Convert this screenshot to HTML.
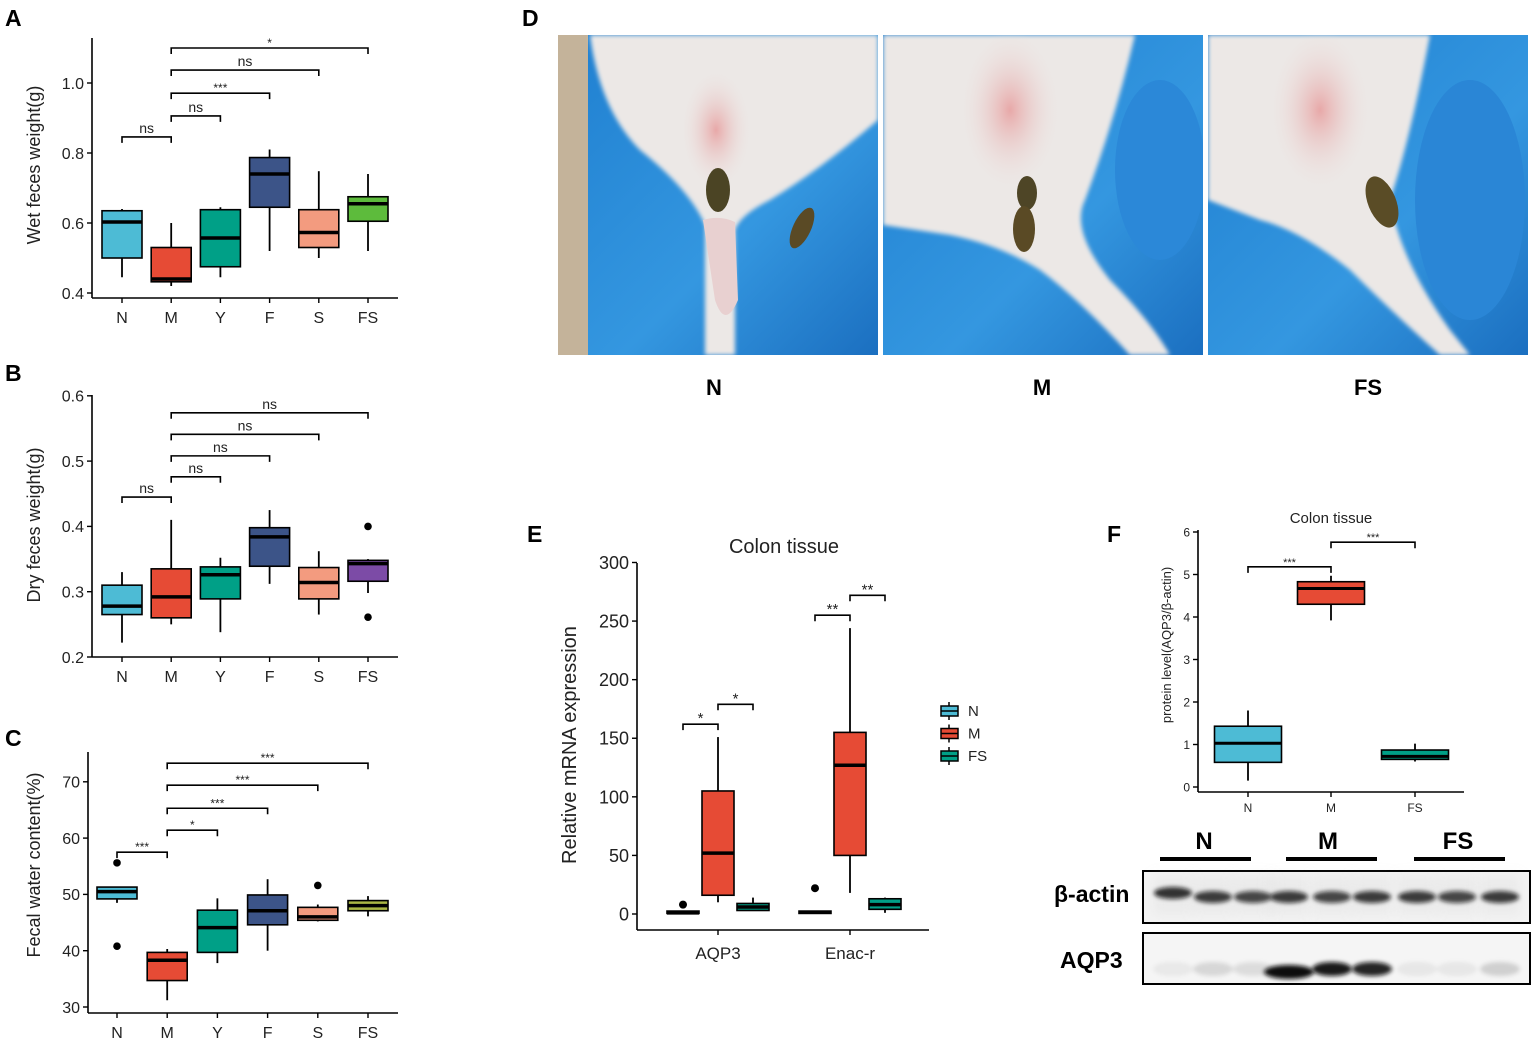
<!DOCTYPE html>
<html><head><meta charset="utf-8"><style>
html,body{margin:0;padding:0;background:#fff;}
svg{display:block;font-family:"Liberation Sans",Arial,sans-serif;}
</style></head><body>
<svg id="fig" width="1535" height="1042" viewBox="0 0 1535 1042" xmlns="http://www.w3.org/2000/svg">
<defs>
<filter id="blur2" x="-50%" y="-50%" width="200%" height="200%"><feGaussianBlur stdDeviation="2"/></filter>
<filter id="blur6" x="-50%" y="-50%" width="200%" height="200%"><feGaussianBlur stdDeviation="6"/></filter>
<linearGradient id="glove" x1="0" y1="0" x2="1" y2="1"><stop offset="0" stop-color="#1f7fd0"/><stop offset="0.6" stop-color="#3497e0"/><stop offset="1" stop-color="#1b6fc0"/></linearGradient>
<radialGradient id="pink" cx="0.5" cy="0.5" r="0.5"><stop offset="0" stop-color="#e8a8a8"/><stop offset="1" stop-color="#ece4e2" stop-opacity="0"/></radialGradient>
<clipPath id="c1"><rect x="558" y="35" width="320" height="320"/></clipPath>
<clipPath id="c2"><rect x="883" y="35" width="320" height="320"/></clipPath>
<clipPath id="c3"><rect x="1208" y="35" width="320" height="320"/></clipPath>
</defs>

<g font-weight="bold" font-size="23" fill="#000">
<text x="5" y="26">A</text>
<text x="5" y="381">B</text>
<text x="5" y="746">C</text>
<text x="522" y="26">D</text>
<text x="527" y="542">E</text>
<text x="1107" y="542">F</text>
</g>

<g clip-path="url(#c1)">
<rect x="558" y="35" width="320" height="320" fill="url(#glove)"/>
<rect x="558" y="35" width="30" height="320" fill="#c4b39a"/>
<path d="M590 35 L878 35 L878 120 Q820 170 770 200 Q740 215 735 230 L735 355 L705 355 L705 225 Q690 190 640 150 Q600 110 590 35 Z" fill="#ece8e6" filter="url(#blur2)"/>
<ellipse cx="716" cy="130" rx="35" ry="60" fill="url(#pink)"/>
<path d="M703 220 Q720 215 735 222 L738 300 Q725 330 715 300 Z" fill="#e8d0d0"/>
<ellipse cx="718" cy="190" rx="12" ry="22" fill="#4b4424"/>
<ellipse cx="802" cy="228" rx="9" ry="22" transform="rotate(25 802 228)" fill="#5a4a25"/>
</g>
<g clip-path="url(#c2)">
<rect x="883" y="35" width="320" height="320" fill="url(#glove)"/>
<ellipse cx="1160" cy="170" rx="45" ry="90" fill="#2b88d8"/>
<path d="M883 35 L1135 35 Q1115 120 1085 200 Q1070 230 1110 280 Q1150 320 1170 355 L1130 355 Q1080 300 1040 270 Q1000 245 950 235 L883 225 Z" fill="#ece8e6" filter="url(#blur2)"/>
<ellipse cx="1010" cy="110" rx="50" ry="80" fill="url(#pink)"/>
<ellipse cx="1027" cy="193" rx="10" ry="17" fill="#4e4526"/>
<ellipse cx="1024" cy="229" rx="11" ry="23" fill="#5a4a25"/>
</g>
<g clip-path="url(#c3)">
<rect x="1208" y="35" width="320" height="320" fill="url(#glove)"/>
<ellipse cx="1470" cy="200" rx="55" ry="120" fill="#2a86d6"/>
<path d="M1208 35 L1430 35 Q1410 140 1390 200 Q1400 260 1450 330 L1470 355 L1440 355 Q1390 310 1350 270 Q1300 230 1260 220 L1208 200 Z" fill="#ece8e6" filter="url(#blur2)"/>
<ellipse cx="1320" cy="110" rx="50" ry="80" fill="url(#pink)"/>
<ellipse cx="1382" cy="202" rx="14" ry="27" transform="rotate(-22 1382 202)" fill="#5a4c26"/>
</g>
<g font-weight="bold" font-size="22" text-anchor="middle">
<text x="714" y="395">N</text>
<text x="1042" y="395">M</text>
<text x="1368" y="395">FS</text>
</g>

<g id="charts"></g>

<g>
<g font-weight="bold" font-size="24" text-anchor="middle">
<text x="1204" y="849">N</text>
<text x="1328" y="849">M</text>
<text x="1458" y="849">FS</text>
</g>
<rect x="1160" y="857" width="91" height="4" fill="#000"/>
<rect x="1286" y="857" width="91" height="4" fill="#000"/>
<rect x="1414" y="857" width="91" height="4" fill="#000"/>
<text x="1054" y="902" font-weight="bold" font-size="23">β-actin</text>
<text x="1060" y="968" font-weight="bold" font-size="23">AQP3</text>
<rect x="1143" y="871" width="387" height="52" fill="#f3f3f3" stroke="#000" stroke-width="2"/>
<rect x="1143" y="933" width="387" height="51" fill="#f5f5f5" stroke="#000" stroke-width="2"/>
<g id="bands"></g>
</g>
</svg>
<script>
const cats6 = ['N','M','Y','F','S','FS'];
const aLow  = [0.445,0.42,0.445,0.52,0.50,0.52];
const aQ1   = [0.50,0.432,0.475,0.645,0.53,0.605];
const aMed  = [0.603,0.44,0.557,0.74,0.573,0.655];
const aQ3   = [0.635,0.53,0.638,0.787,0.638,0.675];
const aHigh = [0.64,0.60,0.645,0.81,0.748,0.74];
const aOut  = [[],[],[],[],[],[]];
const aTicks = [0.4,0.6,0.8,1.0];
const aSigPairs = [['N','M'],['M','Y'],['M','F'],['M','S'],['M','FS']];
const aSigText = ['ns','ns','***','ns','*'];
const aSigY = [0.846,0.906,0.971,1.037,1.10];
const bLow  = [0.222,0.25,0.238,0.312,0.265,0.298];
const bQ1   = [0.265,0.26,0.289,0.339,0.289,0.316];
const bMed  = [0.278,0.292,0.326,0.384,0.314,0.343];
const bQ3   = [0.31,0.335,0.338,0.398,0.337,0.348];
const bHigh = [0.33,0.41,0.352,0.425,0.362,0.35];
const bOut  = [[],[],[],[],[],[0.40,0.261]];
const bTicks = [0.2,0.3,0.4,0.5,0.6];
const bSigPairs = [['N','M'],['M','Y'],['M','F'],['M','S'],['M','FS']];
const bSigText = ['ns','ns','ns','ns','ns'];
const bSigY = [0.445,0.476,0.508,0.541,0.574];
const cLow  = [48.5,31.2,37.8,40.0,45.2,46.1];
const cQ1   = [49.2,34.7,39.7,44.6,45.4,47.1];
const cMed  = [50.5,38.3,44.1,47.1,46.0,48.0];
const cQ3   = [51.3,39.7,47.2,49.9,47.7,48.9];
const cHigh = [51.3,40.3,49.3,52.7,48.2,49.7];
const cOut  = [[55.6,40.8],[],[],[],[51.6],[]];
const cTicks = [30,40,50,60,70];
const cSigPairs = [['N','M'],['M','Y'],['M','F'],['M','S'],['M','FS']];
const cSigText = ['***','*','***','***','***'];
const cSigY = [57.5,61.4,65.3,69.4,73.3];
const eGenes = ['AQP3','Enac-r'];
const eGroups = ['N','M','FS'];
const eLow  = [0.3,10,3, 0.3,18,1];
const eQ1   = [0.5,16,3, 0.5,50,4];
const eMed  = [1,52,6, 1.5,127,8];
const eQ3   = [2.5,105,9, 2.5,155,13];
const eHigh = [2.5,151,14, 2.5,244,14];
const eOut  = [[8],[],[], [22],[],[]];
const eTicks = [0,50,100,150,200,250,300];
const eSigText = ['*','*','**','**'];
const eSigY = [162,179,255,272];
const fCats = ['N','M','FS'];
const fLow  = [0.15,3.92,0.6];
const fQ1   = [0.58,4.30,0.65];
const fMed  = [1.03,4.67,0.72];
const fQ3   = [1.43,4.83,0.87];
const fHigh = [1.80,4.97,1.02];
const fTicks = [0,1,2,3,4,5,6];
const fSigPairs = [['N','M'],['M','FS']];
const fSigText = ['***','***'];
const fSigY = [5.18,5.76];
const actinInt = [0.95,0.9,0.85,0.9,0.85,0.9,0.9,0.85,0.9];
const aqpInt = [0.05,0.12,0.1,1.0,0.95,0.9,0.06,0.06,0.15];

const NS='http://www.w3.org/2000/svg';
const root=document.getElementById('charts');
function el(tag,attrs,parent){const e=document.createElementNS(NS,tag);for(const k in attrs)e.setAttribute(k,attrs[k]);(parent||root).appendChild(e);return e;}

function drawChart(cfg){
  const g=el('g',{});
  
  
  const y=v=>cfg.y0-(v-cfg.v0)*cfg.k;
  const ya=el('line',{x1:cfg.ax,y1:cfg.axTop,x2:cfg.ax,y2:cfg.axY,stroke:'#000','stroke-width':1.6},g);
  
  
  const xa=el('line',{x1:cfg.ax,y1:cfg.axY,x2:cfg.axRight,y2:cfg.axY,stroke:'#000','stroke-width':1.6},g);
  
  
  cfg.ticks.forEach(t=>{
    el('line',{x1:cfg.ax-5,y1:y(t),x2:cfg.ax,y2:y(t),stroke:'#000','stroke-width':1.4},g);
    const tl=el('text',{x:cfg.ax-8,y:y(t)+cfg.tickFs*0.36,'text-anchor':'end','font-size':cfg.tickFs,fill:'#222'},g);
    tl.textContent=cfg.fmt(t);
    
    
  });
  cfg.catX.forEach((cx,i)=>{
    el('line',{x1:cx,y1:cfg.axY,x2:cx,y2:cfg.axY+5,stroke:'#000','stroke-width':1.4},g);
    const cl=el('text',{x:cx,y:cfg.catLabY,'text-anchor':'middle','font-size':cfg.catFs,fill:'#222'},g);
    cl.textContent=cfg.catLabels[i];
    
    
  });
  const yt=el('text',{x:0,y:0,'text-anchor':'middle','font-size':cfg.titleFs,fill:'#222',transform:`translate(${cfg.titleX},${cfg.titleY}) rotate(-90)`},g);
  yt.textContent=cfg.yTitle;
  
  
  cfg.boxX.forEach((bx,i)=>{
    const w=cfg.bw, x0=bx-w/2;
    const bg=el('g',{},g);
    
    
    el('line',{x1:bx,y1:y(cfg.low[i]),x2:bx,y2:y(cfg.q1[i]),stroke:'#000','stroke-width':1.8},bg);
    el('line',{x1:bx,y1:y(cfg.q3[i]),x2:bx,y2:y(cfg.high[i]),stroke:'#000','stroke-width':1.8},bg);
    el('rect',{x:x0,y:y(cfg.q3[i]),width:w,height:Math.max(1,y(cfg.q1[i])-y(cfg.q3[i])),fill:cfg.colors[i],stroke:'#000','stroke-width':1.6},bg);
    el('line',{x1:x0,y1:y(cfg.med[i]),x2:x0+w,y2:y(cfg.med[i]),stroke:'#000','stroke-width':cfg.medW||3.5},bg);
    (cfg.out[i]||[]).forEach(o=>{
      const c=el('circle',{cx:bx,cy:y(o),r:cfg.outR||3.8,fill:'#000'},bg);
      
      
    });
  });
  cfg.sig.forEach((s,i)=>{
    const sy=y(cfg.sigY[i]);
    const sg=el('g',{},g);
    
    
    el('path',{d:`M${s[0]} ${sy+6} L${s[0]} ${sy} L${s[1]} ${sy} L${s[1]} ${sy+6}`,fill:'none',stroke:'#000','stroke-width':1.6},sg);
    const txt=cfg.sigText[i];
    const isNs=txt==='ns';
    const st=el('text',{x:(s[0]+s[1])/2,y:sy-(isNs?4:1),'text-anchor':'middle','font-size':isNs?cfg.nsFs:cfg.starFs,fill:'#222'},sg);
    st.textContent=txt;
  });
}

function sixCfg(name,low,q1,med,q3,high,out,ticks,pairs,sigText,sigY,v0,y0,k,ax,axTop,axY,axRight,x0,step,colors,catLabY,yTitle,titleY,fmt){
  const catX=cats6.map((c,i)=>x0+i*step);
  const idx=c=>cats6.indexOf(c);
  return {name,v0,y0,k,ax,axTop,axY,axRight,ticks,tickFs:16,fmt,catX,catLabels:cats6,catLabY,catFs:16,
    yTitle,titleX:40,titleY,titleFs:18,boxX:catX,bw:40,boxNames:cats6,low,q1,med,q3,high,out,colors,
    sig:pairs.map(p=>[catX[idx(p[0])],catX[idx(p[1])]]),sigText,sigY,nsFs:14,starFs:12};
}
const base=['#4dbbd5','#e64b35','#00a087','#3c5488','#f39b7f'];
drawChart(sixCfg('chart-wet-feces',aLow,aQ1,aMed,aQ3,aHigh,aOut,aTicks,aSigPairs,aSigText,aSigY,
  0.4,293,350,92,38,298,398,122,49.2,base.concat(['#5dbb3c']),323,'Wet feces weight(g)',165,t=>t.toFixed(1)));
drawChart(sixCfg('chart-dry-feces',bLow,bQ1,bMed,bQ3,bHigh,bOut,bTicks,bSigPairs,bSigText,bSigY,
  0.2,657,653,92,395,657,398,122,49.2,base.concat(['#7c4ba6']),682,'Dry feces weight(g)',525,t=>t.toFixed(1)));
drawChart(sixCfg('chart-fecal-water',cLow,cQ1,cMed,cQ3,cHigh,cOut,cTicks,cSigPairs,cSigText,cSigY,
  30,1007,5.63,88,752,1013,398,117,50.2,base.concat(['#a9b644']),1038,'Fecal water content(%)',865,t=>String(t)));

(function(){
  const gx=[718,850], off=35;
  const boxX=[], boxNames=[], colors=[];
  const gc={N:'#4dbbd5',M:'#e64b35',FS:'#00a087'};
  eGenes.forEach((gname,gi)=>eGroups.forEach((gr,j)=>{boxX.push(gx[gi]+(j-1)*off);boxNames.push(gname+'-'+gr);colors.push(gc[gr]);}));
  drawChart({name:'chart-mrna-expression',v0:0,y0:914,k:1.1717,ax:637,axTop:563,axY:930,axRight:929,ticks:eTicks,tickFs:18,fmt:t=>String(t),
    catX:gx,catLabels:eGenes,catLabY:959,catFs:17,yTitle:'Relative mRNA expression',titleX:576,titleY:745,titleFs:20,
    boxX,bw:32,boxNames,low:eLow,q1:eQ1,med:eMed,q3:eQ3,high:eHigh,out:eOut,colors,outR:4,
    sig:[[boxX[0],boxX[1]],[boxX[1],boxX[2]],[boxX[3],boxX[4]],[boxX[4],boxX[5]]],sigText:eSigText,sigY:eSigY,nsFs:14,starFs:15});
  const t=el('text',{x:784,y:553,'text-anchor':'middle','font-size':20,fill:'#222'});
  t.textContent='Colon tissue';
  
  
  const lg=el('g',{});
  
  
  eGroups.forEach((gr,i)=>{
    const ly=711+i*22.5;
    const e=el('g',{},lg);
    
    
    el('line',{x1:949,y1:ly-9,x2:949,y2:ly+9,stroke:'#000','stroke-width':1.5},e);
    el('rect',{x:941,y:ly-5,width:17,height:10,fill:gc[gr],stroke:'#000','stroke-width':1.5},e);
    el('line',{x1:941,y1:ly,x2:958,y2:ly,stroke:'#000','stroke-width':1.5},e);
    const tx=el('text',{x:968,y:ly+5,'font-size':15,fill:'#222'},e);
    tx.textContent=gr;
  });
})();

(function(){
  const cx=[1248,1331,1415];
  drawChart({name:'chart-protein-level',v0:0,y0:787,k:42.5,ax:1198,axTop:530,axY:792,axRight:1464,ticks:fTicks,tickFs:12,fmt:t=>String(t),
    catX:cx,catLabels:fCats,catLabY:812,catFs:12,yTitle:'protein level(AQP3/β-actin)',titleX:1171,titleY:645,titleFs:13,
    boxX:cx,bw:67,boxNames:fCats,low:fLow,q1:fQ1,med:fMed,q3:fQ3,high:fHigh,out:[[],[],[]],colors:['#4dbbd5','#e64b35','#00a087'],
    sig:fSigPairs.map(p=>[cx[fCats.indexOf(p[0])],cx[fCats.indexOf(p[1])]]),sigText:fSigText,sigY:fSigY,nsFs:12,starFs:11,medW:3});
  const t=el('text',{x:1331,y:523,'text-anchor':'middle','font-size':15,fill:'#222'});
  t.textContent='Colon tissue';
  
  
})();

(function(){
  const bands=document.getElementById('bands');
  const lanes=[1173,1213,1253,1289,1332,1372,1417,1457,1500];
  lanes.forEach((lx,i)=>{
    const a=el('ellipse',{cx:lx,cy:i===0?893:897,rx:19,ry:6,fill:'#111','fill-opacity':actinInt[i],filter:'url(#blur2)'},bands);
    
    
    el('rect',{x:lx-20,y:875,width:40,height:40,fill:'#bbb','fill-opacity':0.15,filter:'url(#blur6)'},bands);
    const b=el('ellipse',{cx:lx,cy:i===3?972:969,rx:i===3?25:20,ry:7,fill:'#111','fill-opacity':aqpInt[i],filter:'url(#blur2)'},bands);
    
    
  });
})();
</script>
</body></html>
